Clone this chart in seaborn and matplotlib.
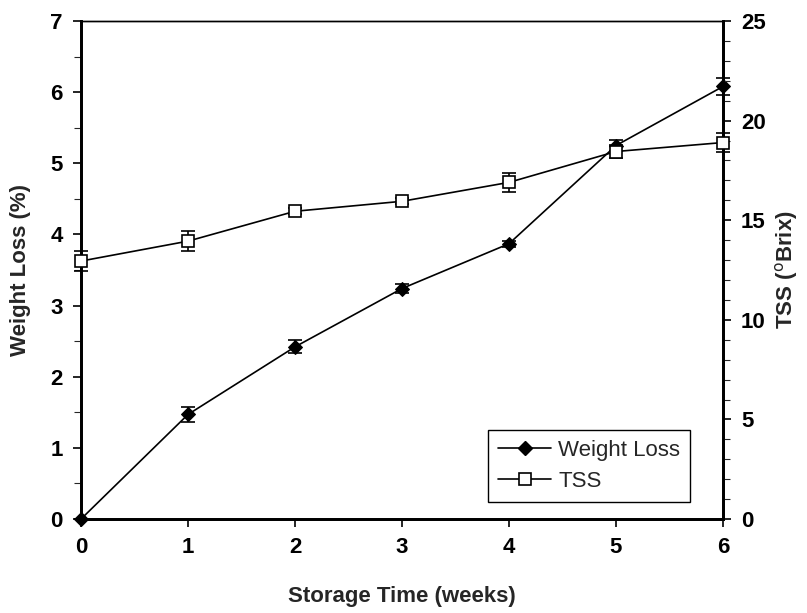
"""
Weight loss and TSS during storage
"""

import pandas as pd
import matplotlib.pyplot as plt
import seaborn as sns
from matplotlib.ticker import MultipleLocator
from matplotlib.lines import Line2D

sns.set_theme(style="ticks")
plt.rcParams["font.family"] = ["Liberation Sans", "DejaVu Sans"]

# ---------------------------------------------
# Data
# ---------------------------------------------

weeks = [0, 1, 2, 3, 4, 5, 6]
weight_loss = [0.0, 1.47, 2.42, 3.24, 3.87, 5.25, 6.08]
weight_loss_err = [0.0, 0.11, 0.09, 0.06, 0.04, 0.08, 0.12]
tss = [12.95, 13.95, 15.45, 15.95, 16.9, 18.45, 18.9]
tss_err = [0.5, 0.5, 0.15, 0.15, 0.47, 0.35, 0.5]

df = pd.DataFrame({
    "Storage Time (weeks)": weeks,
    "Weight Loss": weight_loss,
    "TSS": tss,
})

# ---------------------------------------------
# Figure
# ---------------------------------------------

fig = plt.figure(figsize=(8.07, 6.13), dpi=100)
ax = fig.add_axes([0.1004, 0.1533, 0.7955, 0.8124])
ax2 = ax.twinx()

sns.lineplot(
    data=df, x="Storage Time (weeks)", y="Weight Loss", ax=ax,
    color="black", lw=1.2, marker="D", markersize=7,
    markerfacecolor="black", markeredgecolor="black", zorder=3,
    clip_on=False,
)
eb1 = ax.errorbar(weeks, weight_loss, yerr=weight_loss_err, fmt="none",
                  ecolor="black", elinewidth=1.2, capsize=5, capthick=1.2,
                  zorder=3)

sns.lineplot(
    data=df, x="Storage Time (weeks)", y="TSS", ax=ax2,
    color="black", lw=1.2, marker="s", markersize=9,
    markerfacecolor="white", markeredgecolor="black",
    markeredgewidth=1.2, zorder=3, clip_on=False,
)
eb2 = ax2.errorbar(weeks, tss, yerr=tss_err, fmt="none",
                   ecolor="black", elinewidth=1.2, capsize=5, capthick=1.2,
                   zorder=2)

for eb in (eb1, eb2):
    for artist in eb.get_children():
        artist.set_clip_on(False)

# ---------------------------------------------
# Axes
# ---------------------------------------------

ax.set_xlim(0, 6)
ax.set_ylim(0, 7)
ax2.set_ylim(0, 25)
ax.xaxis.set_major_locator(MultipleLocator(1))
ax.yaxis.set_major_locator(MultipleLocator(1))
ax.yaxis.set_minor_locator(MultipleLocator(0.5))
ax2.yaxis.set_major_locator(MultipleLocator(5))
ax2.yaxis.set_minor_locator(MultipleLocator(1))

for a in (ax, ax2):
    a.tick_params(which="major", direction="out", length=6, width=1.2,
                  labelsize=16, colors="black", pad=7)
    a.tick_params(which="minor", direction="out", length=5, width=0.8)
    for lab in a.get_xticklabels() + a.get_yticklabels():
        lab.set_fontweight("bold")
    for side in ("left", "right", "bottom"):
        a.spines[side].set_linewidth(2)
        a.spines[side].set_color("black")
    a.spines["top"].set_linewidth(1)
    a.spines["top"].set_color("black")

ax.set_xlabel("Storage Time (weeks)", fontsize=16, fontweight="bold", labelpad=20)
ax.set_ylabel("Weight Loss (%)", fontsize=16, fontweight="bold", labelpad=14)
ax2.set_ylabel("TSS ($^{\\mathrm{o}}$Brix)", fontsize=16, fontweight="bold",
               labelpad=5)

# ---------------------------------------------
# Legend
# ---------------------------------------------

handles = [
    Line2D([], [], color="black", lw=1.2, marker="D", markersize=7,
           markerfacecolor="black"),
    Line2D([], [], color="black", lw=1.2, marker="s", markersize=8,
           markerfacecolor="white", markeredgewidth=1.2),
]
leg = ax.legend(
    handles, ["Weight Loss", "TSS"],
    loc="lower left", bbox_to_anchor=(0.634, 0.034, 0.315, 0.15),
    mode="expand", fontsize=16, frameon=True, fancybox=False,
    edgecolor="black", framealpha=1, borderaxespad=0,
    handlelength=2.4, handletextpad=0.3, labelspacing=0.45,
    borderpad=0.45,
)
leg.get_frame().set_linewidth(1)

fig.savefig("out.png", dpi=100)
plt.close(fig)
